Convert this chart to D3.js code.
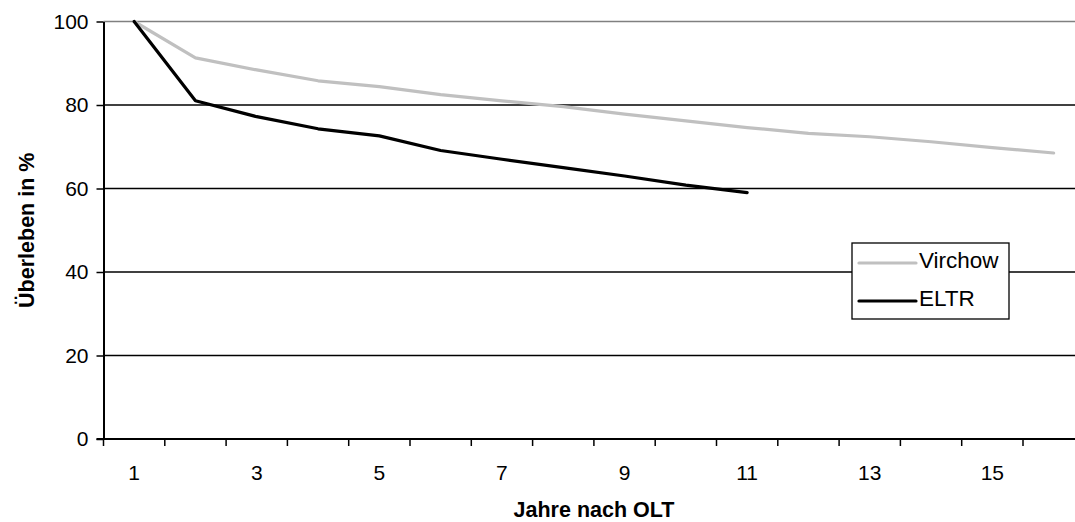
<!DOCTYPE html>
<html>
<head>
<meta charset="utf-8">
<script src="https://cdn.jsdelivr.net/npm/d3@7"></script>
<style>
  html, body { margin: 0; padding: 0; background: #fff; }
  svg { display: block; font-family: "Liberation Sans", Arial, sans-serif; }
</style>
</head>
<body>
<svg id="chart" width="1075" height="522"></svg>
<script>
// Years after transplantation (category axis)
const years = [1, 2, 3, 4, 5, 6, 7, 8, 9, 10, 11, 12, 13, 14, 15, 16];
// Survival in percent per series
const virchow = [100, 91.3, 88.4, 85.8, 84.4, 82.5, 81.0, 79.6, 77.8, 76.2, 74.6, 73.2, 72.4, 71.2, 69.8, 68.5];
const eltr = [100, 81.0, 77.2, 74.3, 72.6, 69.1, 67.0, 65.0, 63.0, 60.8, 59.0];
const yTicks = [0, 20, 40, 60, 80, 100];
const seriesNames = ["Virchow", "ELTR"];

const svg = d3.select("#chart");
const W = 1075;

const x = d3.scaleBand().domain(years).range([103.5, 1084.3]).padding(0);
const y = d3.scaleLinear().domain([0, 100]).range([439, 21.5]);
const bw = x.bandwidth();
const cx = d => x(d) + bw / 2;

// horizontal gridlines
svg.append("g").selectAll("line")
  .data(yTicks.filter(t => t > 0))
  .join("line")
  .attr("x1", x.range()[0]).attr("x2", W)
  .attr("y1", d => y(d)).attr("y2", d => y(d))
  .attr("stroke", d => d === 100 ? "#808080" : "#000")
  .attr("stroke-width", 1.3);

// y axis
const yAxis = svg.append("g")
  .attr("transform", `translate(${x.range()[0]},0)`)
  .call(d3.axisLeft(y).tickValues(yTicks).tickSize(7).tickPadding(8).tickSizeOuter(0));
yAxis.select(".domain").attr("stroke", "#000").attr("stroke-width", 2);
yAxis.selectAll(".tick line").attr("stroke", "#000").attr("stroke-width", 1.5);
yAxis.selectAll(".tick text").attr("font-size", 21).attr("fill", "#000")
  .attr("font-family", "Liberation Sans, Arial, sans-serif");

// x axis line
svg.append("line")
  .attr("x1", x.range()[0] - 7).attr("x2", W)
  .attr("y1", y(0)).attr("y2", y(0))
  .attr("stroke", "#000").attr("stroke-width", 2);

// x tick marks at category boundaries
svg.append("g").selectAll("line")
  .data(years)
  .join("line")
  .attr("x1", d => x(d)).attr("x2", d => x(d))
  .attr("y1", y(0)).attr("y2", y(0) + 7)
  .attr("stroke", "#000").attr("stroke-width", 1.5);

// x labels on every second category
svg.append("g").selectAll("text")
  .data(years.filter(d => d % 2 === 1))
  .join("text")
  .attr("x", d => cx(d))
  .attr("y", 480)
  .attr("text-anchor", "middle")
  .attr("font-size", 21)
  .text(d => d);

// axis titles
svg.append("text")
  .attr("x", 594).attr("y", 517)
  .attr("text-anchor", "middle")
  .attr("font-size", 21.5).attr("font-weight", "bold")
  .text("Jahre nach OLT");

svg.append("text")
  .attr("transform", `translate(34,${(y(0) + y(100)) / 2}) rotate(-90)`)
  .attr("text-anchor", "middle")
  .attr("font-size", 21.5).attr("font-weight", "bold")
  .text("Überleben in %");

// series lines
const line = d3.line().x((d, i) => cx(years[i])).y(d => y(d));
svg.append("path").datum(virchow)
  .attr("d", line).attr("fill", "none")
  .attr("stroke", "#c0c0c0").attr("stroke-width", 3.2)
  .attr("stroke-linejoin", "round").attr("stroke-linecap", "round");
svg.append("path").datum(eltr)
  .attr("d", line).attr("fill", "none")
  .attr("stroke", "#000").attr("stroke-width", 3.2)
  .attr("stroke-linejoin", "round").attr("stroke-linecap", "round");

// legend
const lg = svg.append("g");
lg.append("rect")
  .attr("x", 852).attr("y", 243).attr("width", 157).attr("height", 76)
  .attr("fill", "#fff").attr("stroke", "#000").attr("stroke-width", 1.3);
const legendColors = ["#c0c0c0", "#000"];
const legendY = [263, 301];
seriesNames.forEach((name, i) => {
  lg.append("line")
    .attr("x1", 859).attr("x2", 916)
    .attr("y1", legendY[i]).attr("y2", legendY[i])
    .attr("stroke", legendColors[i]).attr("stroke-width", 3.2)
    .attr("stroke-linecap", "round");
  lg.append("text")
    .attr("x", 919).attr("y", legendY[i] + 5)
    .attr("font-size", 22.5)
    .text(name);
});
</script>
</body>
</html>
